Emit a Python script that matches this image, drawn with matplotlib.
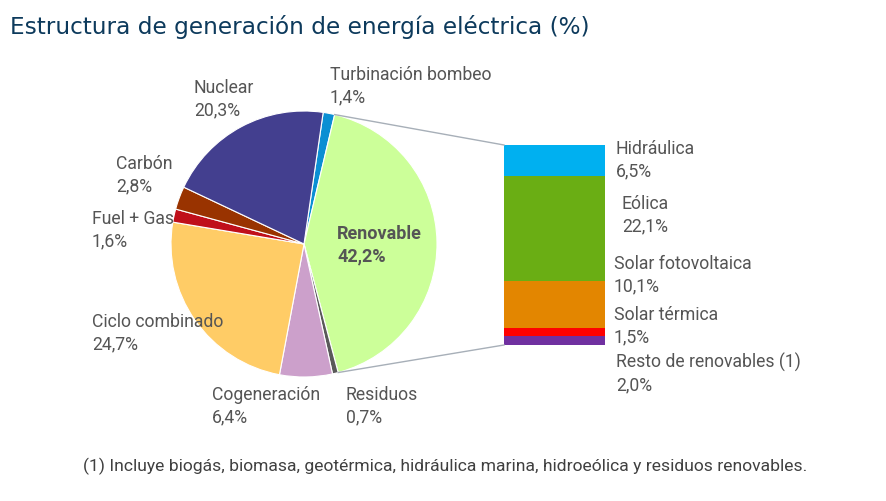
import numpy as np
import matplotlib
matplotlib.use("Agg")
import matplotlib.pyplot as plt

# pie slices, clockwise from the top
pie_labels = ["Turbinación bombeo", "Renovable", "Residuos", "Cogeneración",
              "Ciclo combinado", "Fuel + Gas", "Carbón", "Nuclear"]
pie_values = [1.4, 42.2, 0.7, 6.4, 24.7, 1.6, 2.8, 20.3]
pie_colors = ["#0B8FD3", "#CCFF99", "#595959", "#CCA0CB",
              "#FFCC66", "#C00F1A", "#993300", "#433F8F"]

# renewable breakdown, top to bottom
ren_labels = ["Hidráulica", "Eólica", "Solar fotovoltaica", "Solar térmica",
              "Resto de renovables (1)"]
ren_values = [6.5, 22.1, 10.1, 1.5, 2.0]
ren_colors = ["#00B0F0", "#6AAE14", "#E38600", "#FF0000", "#7030A0"]

W, H = 886, 501
fig = plt.figure(figsize=(W / 100, H / 100), dpi=100)
ax = fig.add_axes([0, 0, 1, 1])

def py(y):
    # pixel row (from top) to data y
    return H - y

txt_color = "#555555"
font = "Roboto"

# pie
cx, cy, r = 304, py(244), 133
start = 81.7
ax.pie(pie_values, colors=pie_colors, startangle=start, counterclock=False,
       center=(cx, cy), radius=r, frame=True,
       wedgeprops=dict(linewidth=0.8, edgecolor="white"))
ax.set_xlim(0, W)
ax.set_ylim(0, H)
ax.set_aspect("equal")
ax.axis("off")

# bar with the renewable breakdown
bar_x0, bar_x1 = 504, 605
bar_top, bar_bot = py(145), py(345)
scale = (bar_top - bar_bot) / sum(ren_values)
bottom = bar_bot
for lab, v, c in reversed(list(zip(ren_labels, ren_values, ren_colors))):
    ax.bar(bar_x0, v * scale, bottom=bottom, width=bar_x1 - bar_x0,
           align="edge", color=c, linewidth=0)
    bottom += v * scale

# connector lines from the renewable slice to the bar
tot = sum(pie_values)
a1 = start - pie_values[0] / tot * 360
a2 = a1 - pie_values[1] / tot * 360
for a, yb in [(a1, bar_top), (a2, bar_bot)]:
    t = np.radians(a)
    ax.plot([cx + r * np.cos(t), bar_x0], [cy + r * np.sin(t), yb],
            color="#A7AFB8", lw=1)

def label(x, y, name, val, size=12.7, **kw):
    ax.text(x, py(y), f"{name}\n{val:.1f}%".replace(".", ","), ha="left",
            va="top", fontsize=size, color=txt_color, family=font,
            linespacing=1.3, **kw)

pie_pos = {"Turbinación bombeo": (330, 66), "Residuos": (346, 386),
           "Cogeneración": (212, 386), "Ciclo combinado": (92, 313),
           "Fuel + Gas": (92, 210), "Carbón": (116, 155),
           "Nuclear": (194, 79)}
for lab, v in zip(pie_labels, pie_values):
    if lab == "Renovable":
        label(337, 225, lab, v, size=13, fontweight="bold")
    else:
        x, y = pie_pos[lab]
        label(x, y, lab, v)

ren_pos = [(616, 140), (622, 195), (614, 255), (614, 306), (616, 353)]
for (x, y), lab, v in zip(ren_pos, ren_labels, ren_values):
    label(x, y, lab, v)

ax.text(10, py(27), "Estructura de generación de energía eléctrica (%)",
        ha="left", va="center", fontsize=16.7, color="#0D3A5C",
        family="DejaVu Sans")

ax.text(83, py(466), "(1) Incluye biogás, biomasa, geotérmica, hidráulica marina, "
        "hidroeólica y residuos renovables.", ha="left", va="center",
        fontsize=12.6, color="#404040", family="Roboto")

fig.savefig("out.png", dpi=100)
